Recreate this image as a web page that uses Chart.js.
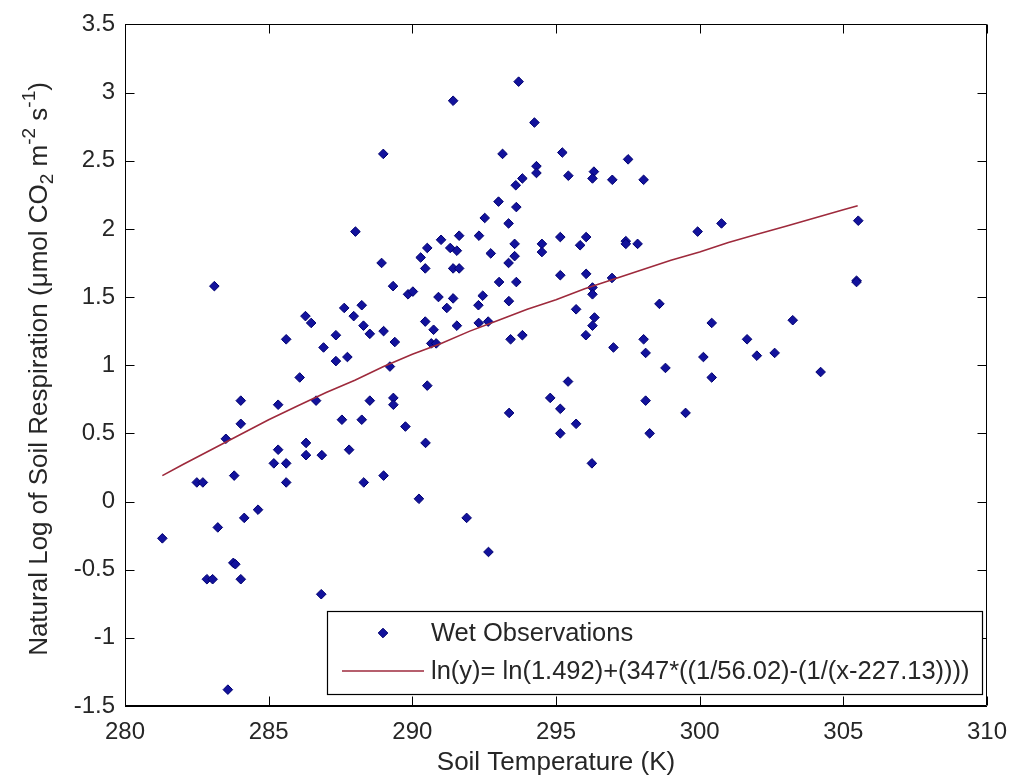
<!DOCTYPE html>
<html><head><meta charset="utf-8">
<script src="https://cdn.jsdelivr.net/npm/chart.js@4/dist/chart.umd.min.js"></script>
<style>html,body{margin:0;padding:0;background:#fff;overflow:hidden}#wrap{width:1019px;height:784px;position:relative}</style>
</head><body><div id="wrap"><canvas id="c" width="1019" height="784"></canvas></div>
<script>
// Observations (x = soil temperature K, y = ln respiration)
const tempK = [
288.99,288.02,288.93,283.11,289.33,
293.70,291.42,294.25,293.14,295.22,297.51,294.32,294.32,295.43,296.32,296.27,296.96,298.05,293.83,293.60,293.00,293.62,292.52,293.35,291.00,291.63,292.32,290.52,291.32,291.55,290.29,290.45,291.42,291.63,292.73,293.56,293.56,293.35,294.51,294.51,295.15,296.05,295.84,297.43,297.43,297.84,293.02,293.62,295.15,296.05,296.95,296.27,
299.93,300.76,305.52,305.46,305.46,
289.85,290.02,287.63,288.24,287.96,286.28,286.48,288.30,288.52,289.00,289.39,287.34,285.61,286.91,287.34,287.74,289.22,286.08,284.03,285.33,286.65,288.52,289.34,289.34,284.03,287.55,288.24,289.76,283.51,285.33,286.30,286.30,286.85,287.80,285.18,285.61,285.61,282.50,282.71,283.80,288.31,289.00,284.15,284.63,283.23,
290.91,291.42,291.20,292.45,292.30,293.36,296.27,295.70,298.60,296.34,296.27,296.04,290.45,290.74,291.55,292.31,292.64,290.66,290.83,293.42,293.83,297.00,298.05,298.12,298.81,299.51,290.52,295.42,294.80,295.15,295.70,295.15,293.37,298.12,298.26,290.46,296.25,290.23,291.89,
300.42,300.13,300.42,301.65,301.99,302.61,303.24,304.21,
281.30,283.77,283.84,282.85,283.05,284.03,286.83,283.58,292.65
];
const lnResp = [
2.55,1.98,1.75,1.58,1.58,
3.08,2.94,2.78,2.55,2.56,2.51,2.46,2.41,2.39,2.42,2.37,2.36,2.36,2.37,2.32,2.20,2.16,2.08,2.04,1.92,1.95,1.95,1.86,1.86,1.84,1.79,1.71,1.71,1.71,1.82,1.89,1.80,1.75,1.89,1.83,1.94,1.94,1.88,1.91,1.89,1.89,1.61,1.61,1.66,1.67,1.64,1.57,
1.98,2.04,2.06,1.62,1.61,
1.52,1.54,1.42,1.44,1.36,1.36,1.31,1.29,1.23,1.25,1.17,1.22,1.19,1.13,1.03,1.06,0.99,0.91,0.74,0.71,0.74,0.74,0.76,0.71,0.57,0.60,0.60,0.55,0.46,0.38,0.43,0.34,0.34,0.38,0.28,0.28,0.14,0.14,0.14,0.19,0.14,0.19,-0.12,-0.06,-0.19,
1.50,1.49,1.42,1.51,1.44,1.47,1.52,1.41,1.45,1.35,1.29,1.22,1.32,1.26,1.29,1.31,1.32,1.16,1.16,1.19,1.22,1.13,1.19,1.09,0.98,0.65,0.85,0.88,0.76,0.68,0.57,0.50,0.65,0.74,0.50,0.43,0.28,0.02,-0.12,
1.31,1.06,0.91,1.19,1.07,1.09,1.33,0.95,
-0.27,-0.45,-0.46,-0.57,-0.57,-0.57,-0.68,-1.38,-0.37
];
// Fitted curve
const fitTempK = [281.3,282,283,284,285,286,287,288,289,290,291,292,293,294,295,296,297,298,299,300,301,302,303,304,305,305.5];
const fitLnResp = [0.19,0.27,0.38,0.49,0.60,0.70,0.80,0.89,0.99,1.08,1.16,1.25,1.33,1.41,1.48,1.56,1.63,1.70,1.77,1.83,1.90,1.96,2.02,2.08,2.14,2.17];

const xTickLabels = ['280','285','290','295','300','305','310'];
const yTickLabels = ['-1.5','-1','-0.5','0','0.5','1','1.5','2','2.5','3','3.5'];
const seriesNames = ['Wet Observations','ln(y)= ln(1.492)+(347*((1/56.02)-(1/(x-227.13))))'];
const xTitle = 'Soil Temperature (K)';
const yTitleParts = [['Natural Log of Soil Respiration (\u03bcmol CO',0],['2',-1],[' m',0],['-2',1],[' s',0],['-1',1],[')',0]];

const FONT = '"Liberation Sans", Arial, Helvetica, sans-serif';
const FS = 24;
const TXT = '#262626';
const PT_FILL = '#12129c';
const PT_EDGE = '#000070';
const LINE_COL = '#9e2a3c';

const obsData = tempK.map((x,i)=>({x:x,y:lnResp[i]}));
const fitData = fitTempK.map((x,i)=>({x:x,y:fitLnResp[i]}));

const frame = {
  id:'frame',
  afterDraw(chart){
    const ctx = chart.ctx, a = chart.chartArea;
    const xs = chart.scales.x, ys = chart.scales.y;
    ctx.save();
    ctx.strokeStyle = '#000'; ctx.lineWidth = 1;
    const L = Math.round(a.left)+0.5, R = Math.round(a.right)-0.5, T = Math.round(a.top)+0.5, B = Math.round(a.bottom)-0.5;
    ctx.beginPath(); ctx.rect(L,T,R-L,B-T); ctx.stroke();
    const tl = 9;
    ctx.beginPath();
    xs.ticks.forEach((t,i)=>{ const p = Math.round(xs.getPixelForValue(t.value))+0.5;
      ctx.moveTo(p,B); ctx.lineTo(p,B-tl); ctx.moveTo(p,T); ctx.lineTo(p,T+tl); });
    ys.ticks.forEach((t,i)=>{ const p = Math.round(ys.getPixelForValue(t.value))+0.5;
      ctx.moveTo(L,p); ctx.lineTo(L+tl,p); ctx.moveTo(R,p); ctx.lineTo(R-tl,p); });
    ctx.stroke();

    // legend
    const lx=327.5, ly=611.5, lw=655, lh=83;
    ctx.fillStyle='#fff'; ctx.fillRect(lx,ly,lw,lh);
    ctx.strokeStyle='#000'; ctx.lineWidth=1.2; ctx.strokeRect(lx,ly,lw,lh);
    const mx=383, my=633, r=4.8;
    ctx.beginPath(); ctx.moveTo(mx,my-r); ctx.lineTo(mx+r,my); ctx.lineTo(mx,my+r); ctx.lineTo(mx-r,my); ctx.closePath();
    ctx.fillStyle=PT_FILL; ctx.fill(); ctx.strokeStyle=PT_EDGE; ctx.lineWidth=1; ctx.stroke();
    ctx.beginPath(); ctx.moveTo(342,671); ctx.lineTo(424,671); ctx.strokeStyle=LINE_COL; ctx.lineWidth=1.5; ctx.stroke();
    ctx.fillStyle=TXT; ctx.font = '25.5px '+FONT; ctx.textBaseline='middle'; ctx.textAlign='left';
    ctx.fillText(seriesNames[0], 431, 634);
    ctx.fillText(seriesNames[1], 431, 672);

    // x title
    ctx.textAlign='center';
    ctx.font = '26px '+FONT;
    ctx.fillText(xTitle, 556, 763);

    // y title with sub/superscripts
    ctx.save();
    ctx.translate(40, 369);
    ctx.rotate(-Math.PI/2);
    ctx.textAlign='left'; ctx.textBaseline='middle';
    const YF = 26, small = 19;
    let total = 0;
    yTitleParts.forEach(p=>{ ctx.font = (p[1]?small:YF)+'px '+FONT; total += ctx.measureText(p[0]).width; });
    let x = -total/2;
    yTitleParts.forEach(p=>{ ctx.font = (p[1]?small:YF)+'px '+FONT;
      const dy = p[1]===1 ? -10 : (p[1]===-1 ? 8 : 0);
      ctx.fillText(p[0], x, dy); x += ctx.measureText(p[0]).width; });
    ctx.restore();
    ctx.restore();
  }
};

new Chart(document.getElementById('c'), {
  data:{ datasets:[
    { type:'line', label:seriesNames[1], data:fitData, borderColor:LINE_COL, borderWidth:1.6, pointRadius:0, fill:false, tension:0, order:0 },
    { type:'scatter', label:seriesNames[0], data:obsData, pointStyle:'rectRot', pointRadius:4.8, backgroundColor:PT_FILL, borderColor:PT_EDGE, borderWidth:1, order:1 }
  ]},
  options:{
    responsive:false, animation:false, devicePixelRatio:1,
    layout:{ padding:{ top:22, right:26, left:0, bottom:0 } },
    plugins:{ legend:{display:false}, tooltip:{enabled:false} },
    scales:{
      x:{ type:'linear', position:'bottom', min:280, max:310,
        afterBuildTicks(s){ s.ticks = xTickLabels.map(v=>({value:parseFloat(v)})); },
        afterFit(s){ s.height = 78; },
        ticks:{ font:{family:FONT,size:FS}, color:TXT, padding:12, maxRotation:0, autoSkip:false,
          callback:(v,i)=>xTickLabels[i] },
        grid:{ display:true, drawOnChartArea:false, drawTicks:false },
        border:{ display:true, color:'#000', width:1 }
      },
      y:{ type:'linear', min:-1.5, max:3.5,
        afterBuildTicks(s){ s.ticks = yTickLabels.map(v=>({value:parseFloat(v)})); },
        afterFit(s){ s.width = 125; },
        ticks:{ font:{family:FONT,size:FS}, color:TXT, padding:10, autoSkip:false,
          callback:(v,i)=>yTickLabels[i] },
        grid:{ display:true, drawOnChartArea:false, drawTicks:false },
        border:{ display:true, color:'#000', width:1 }
      }
    }
  },
  plugins:[frame]
});
</script></body></html>
